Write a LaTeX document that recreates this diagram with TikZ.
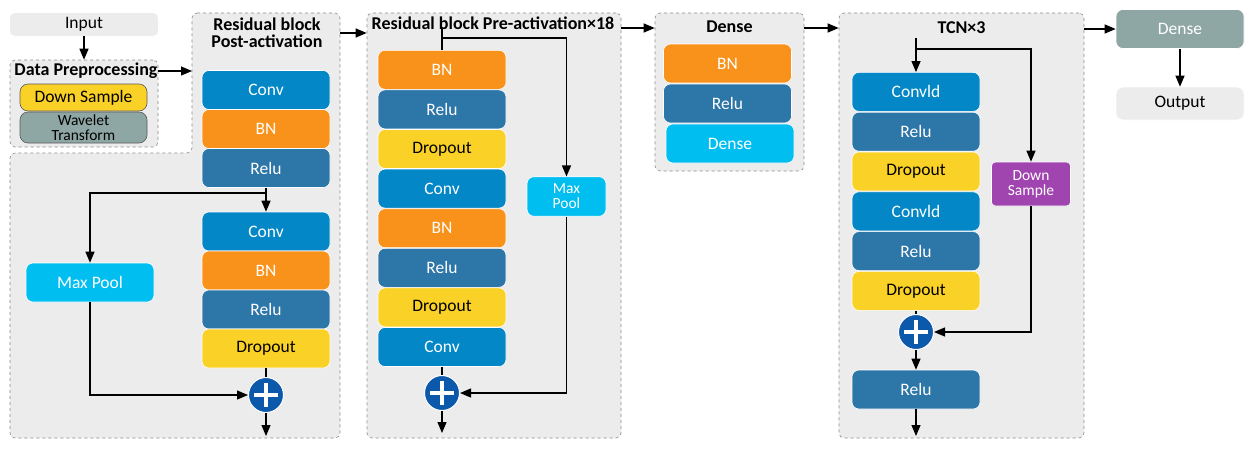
\documentclass[tikz,border=0pt]{standalone}
\usepackage{fontspec}
\setmainfont{Carlito}
\usetikzlibrary{arrows.meta,positioning}

\definecolor{convc}{RGB}{4,135,198}
\definecolor{bnc}{RGB}{249,146,27}
\definecolor{reluc}{RGB}{45,118,168}
\definecolor{dropc}{RGB}{250,209,38}
\definecolor{poolc}{RGB}{0,190,240}
\definecolor{downc}{RGB}{160,68,176}
\definecolor{wavec}{RGB}{143,167,164}
\definecolor{plusc}{RGB}{12,88,170}
\definecolor{groupc}{RGB}{236,236,236}

\tikzset{
  layer/.style={rounded corners=7pt,draw=white,line width=0.6pt,minimum width=128pt,
    minimum height=39pt,inner sep=0pt,text=white,font=\fontsize{17.5}{19}\selectfont},
  tight/.style={align=center,font=\fontsize{15.5}{15}\selectfont},
  group/.style={draw=gray!90,dashed,fill=groupc,rounded corners=5pt,line width=0.6pt,inner sep=0pt},
  ttl/.style={font=\fontsize{18}{17}\selectfont\bfseries,align=center,inner sep=0pt},
  plus/.style={circle,fill=plusc,draw=white,line width=1pt,minimum size=35pt,inner sep=0pt,
    path picture={\draw[white,line width=4pt]
      (path picture bounding box.center) +(-12,0) -- +(12,0)
      (path picture bounding box.center) +(0,-12) -- +(0,12);}},
  flow/.style={-{Triangle[length=11pt,width=9pt]},line width=1.2pt},
  link/.style={line width=1.2pt}
}

\begin{document}
\begin{tikzpicture}[x=1pt,y=-1pt]
\useasboundingbox (0,0) rectangle (1253,448);

% ---- Input / preprocessing ----
\node[layer,fill=groupc,text=black,draw=none,rounded corners=5pt,minimum width=148pt,minimum height=23pt] (in) at (84,24.5) {Input};
\node[group,minimum width=148pt,minimum height=87pt] (dpg) at (84,103.5) {};
\node[ttl] (dp) at (86,71) {Data Preprocessing};
\node[layer,fill=dropc,text=black,draw=gray!70!black,rounded corners=8pt,minimum width=127pt,minimum height=27pt] (ds) at (83.5,97.5) {Down Sample};
\node[layer,tight,fill=wavec,text=black,draw=gray!70!black,rounded corners=8pt,minimum width=127pt,minimum height=31pt] (wt) at (83.5,127.5) {Wavelet\\Transform};
\draw[flow] (in) -- (dpg);

% ---- Residual block, post-activation ----
\draw[group] (192,13) -- (340,13) -- (340,438) -- (10,438) -- (10,153) -- (192,153) -- cycle;
\node[ttl] (pt) at (267,32.5) {Residual block\\Post-activation};
\coordinate (postw) at (192,71);
\draw[flow] (dp.east) -- (postw);

\node[layer,fill=convc] (a1) at (266,90) {Conv};
\node[layer,fill=bnc]   (a2) at (266,129) {BN};
\node[layer,fill=reluc] (a3) at (266,168) {Relu};
\node[layer,fill=convc] (a4) at (266,231.5) {Conv};
\node[layer,fill=bnc]   (a5) at (266,270.5) {BN};
\node[layer,fill=reluc] (a6) at (266,309.5) {Relu};
\node[layer,fill=dropc,text=black] (a7) at (266,348.5) {Dropout};
\node[layer,fill=poolc] (mp1) at (90,282.5) {Max Pool};
\node[plus] (s1) at (266,395) {};
\coordinate (b1) at (266,193);
\coordinate (o1) at (266,436);

\draw[flow] (a3) -- (a4);
\draw[flow] (b1) -| (mp1.north);
\draw[link] (a7) -- (s1);
\draw[flow] (mp1) |- (s1);
\draw[flow] (s1) -- (o1);

% ---- Residual block, pre-activation x18 ----
\node[group,minimum width=254pt,minimum height=425pt] (pre) at (494,225.5) {};
\node[ttl] (prt) at (493,23) {Residual block Pre-activation×18};
\coordinate (poste) at (340,33);
\draw[flow] (poste) -- (pre.west |- poste);

\node[layer,fill=bnc]   (p1) at (442,69.8) {BN};
\node[layer,fill=reluc] (p2) at (442,109.4) {Relu};
\node[layer,fill=dropc,text=black] (p3) at (442,149) {Dropout};
\node[layer,fill=convc] (p4) at (442,188.6) {Conv};
\node[layer,fill=bnc]   (p5) at (442,228.2) {BN};
\node[layer,fill=reluc] (p6) at (442,267.8) {Relu};
\node[layer,fill=dropc,text=black] (p7) at (442,307.4) {Dropout};
\node[layer,fill=convc] (p8) at (442,347) {Conv};
\node[layer,tight,fill=poolc,minimum width=79pt,minimum height=39.5pt] (mp2) at (566.5,196.5) {Max\\Pool};
\node[plus] (s2) at (442,393) {};
\coordinate (c2) at (442,28);
\coordinate (b2) at (442,38);
\coordinate (o2) at (442,433);

\draw[link] (c2) -- (p1);
\draw[flow] (b2) -| (mp2.north);
\draw[link] (p8) -- (s2);
\draw[flow] (mp2) |- (s2);
\draw[flow] (s2) -- (o2);

% ---- Dense ----
\node[group,minimum width=149pt,minimum height=158pt] (dg) at (729.5,92) {};
\node[ttl] (dt) at (729.5,27) {Dense};
\coordinate (r1) at (621,28);
\draw[flow] (r1) -- (r1 -| dg.west);

\node[layer,fill=bnc]   (d1) at (727.5,63.5) {BN};
\node[layer,fill=reluc] (d2) at (727.5,103.5) {Relu};
\node[layer,fill=poolc] (d3) at (730,143.5) {Dense};

% ---- TCN x3 ----
\node[group,minimum width=245pt,minimum height=425pt] (tcn) at (961.5,225.5) {};
\node[ttl] (tt) at (961.5,28) {TCN×3};
\draw[flow] (dg.east |- r1) -- (tcn.west |- r1);

\node[layer,fill=convc] (t1) at (916,91.9) {Convld};
\node[layer,fill=reluc] (t2) at (916,131.7) {Relu};
\node[layer,fill=dropc,text=black] (t3) at (916,171.5) {Dropout};
\node[layer,fill=convc] (t4) at (916,211.3) {Convld};
\node[layer,fill=reluc] (t5) at (916,251.1) {Relu};
\node[layer,fill=dropc,text=black] (t6) at (916,290.9) {Dropout};
\node[layer,tight,fill=downc,rounded corners=4pt,minimum width=79pt,minimum height=44pt] (ds2) at (1031,184) {Down\\Sample};
\node[plus] (s3) at (916,332) {};
\node[layer,fill=reluc] (t7) at (916,389.5) {Relu};
\coordinate (c3) at (916,38);
\coordinate (b3) at (916,49);
\coordinate (o3) at (916,436);

\draw[flow] (c3) -- (t1);
\draw[flow] (b3) -| (ds2.north);
\draw[link] (t6) -- (s3);
\draw[flow] (ds2) |- (s3);
\draw[flow] (s3) -- (t7);
\draw[flow] (t7) -- (o3);

% ---- Output ----
\node[layer,fill=wavec] (fd) at (1180,29) {Dense};
\node[layer,fill=groupc,text=black,minimum height=33pt] (out) at (1180,103.5) {Output};
\draw[flow] (tcn.east |- fd) -- (fd);
\draw[flow] (fd) -- (out);

\end{tikzpicture}
\end{document}
